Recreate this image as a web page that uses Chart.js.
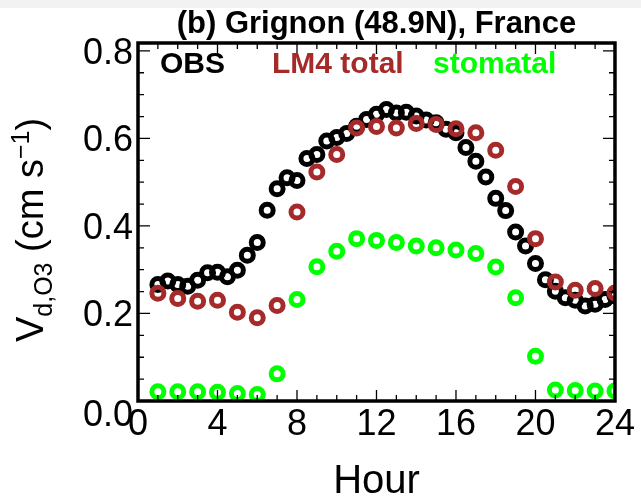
<!DOCTYPE html>
<html>
<head>
<meta charset="utf-8">
<script src="https://cdn.jsdelivr.net/npm/chart.js@4"></script>
<style>
  html, body { margin: 0; padding: 0; background: #fff; }
  #wrap { width: 641px; height: 499px; position: relative; }
</style>
</head>
<body>
<div id="wrap"><canvas id="vdChart"></canvas></div>
<script>
// Ozone deposition velocity, diurnal cycle at Grignon
const hours = [1, 2, 3, 4, 5, 6, 7, 8, 9, 10, 11, 12, 13, 14, 15, 16, 17, 18, 19, 20, 21, 22, 23, 24];
const obsHours = [1, 1.5, 2, 2.5, 3, 3.5, 4, 4.5, 5, 5.5, 6, 6.5, 7, 7.5, 8, 8.5, 9, 9.5, 10, 10.5,
  11, 11.5, 12, 12.5, 13, 13.5, 14, 14.5, 15, 15.5, 16, 16.5, 17, 17.5, 18, 18.5, 19, 19.5, 20, 20.5,
  21, 21.5, 22, 22.5, 23, 23.5, 24];
const obsVd = [0.266, 0.274, 0.266, 0.262, 0.276, 0.293, 0.294, 0.284, 0.299, 0.333,
  0.362, 0.436, 0.485, 0.510, 0.504, 0.554, 0.563, 0.594, 0.602, 0.611,
  0.628, 0.643, 0.655, 0.666, 0.658, 0.660, 0.651, 0.642, 0.636, 0.621,
  0.613, 0.579, 0.548, 0.512, 0.463, 0.435, 0.386, 0.354, 0.314, 0.277,
  0.251, 0.236, 0.230, 0.217, 0.221, 0.232, 0.240];
const lm4TotalVd = [0.246, 0.234, 0.228, 0.230, 0.203, 0.190, 0.218, 0.432, 0.523, 0.563, 0.624, 0.627,
  0.624, 0.634, 0.632, 0.622, 0.613, 0.573, 0.490, 0.371, 0.272, 0.253, 0.257, 0.247];
const stomatalVd = [0.021, 0.021, 0.021, 0.020, 0.017, 0.015, 0.062, 0.232, 0.307, 0.342, 0.371, 0.367,
  0.362, 0.354, 0.350, 0.345, 0.337, 0.306, 0.236, 0.102, 0.025, 0.024, 0.023, 0.023];
const xTicks = [0, 4, 8, 12, 16, 20, 24];
const yTicks = [0, 0.2, 0.4, 0.6, 0.8];

const FONT = '"Liberation Sans", Arial, Helvetica, sans-serif';
const BROWN = '#a52a2a';
const GREEN = '#00ff00';

const toPoints = (xs, ys) => xs.map((x, i) => ({ x: x, y: ys[i] }));

// header strip, frame, inside tick marks, legend text and the y title
const decorations = {
  id: 'decorations',
  beforeDraw(chart) {
    const c = chart.ctx;
    c.save();
    c.fillStyle = '#f2f2f2';
    c.fillRect(0, 0, chart.width, 8);
    c.restore();
  },
  afterDraw(chart) {
    const c = chart.ctx;
    const a = chart.chartArea;
    const xs = chart.scales.x;
    const ys = chart.scales.y;
    c.save();
    c.strokeStyle = '#000';

    // minor/major ticks pointing inwards on all four sides
    c.lineWidth = 1.3;
    c.beginPath();
    for (let h = 1; h < 24; h++) {
      const px = xs.getPixelForValue(h);
      const len = h % 4 === 0 ? 11 : 6;
      c.moveTo(px, a.bottom); c.lineTo(px, a.bottom - len);
      c.moveTo(px, a.top); c.lineTo(px, a.top + len);
    }
    for (let k = 1; k <= 16; k++) {
      const v = k * 0.05;
      const py = ys.getPixelForValue(v);
      const len = k % 4 === 0 ? 12 : 6;
      c.moveTo(a.left, py); c.lineTo(a.left + len, py);
      c.moveTo(a.right, py); c.lineTo(a.right - len, py);
    }
    c.stroke();

    c.lineWidth = 3.5;
    c.strokeRect(a.left, a.top, a.right - a.left, a.bottom - a.top);

    // the 0.0 label sits a little lower so it clears the hour axis
    c.fillStyle = '#000';
    c.font = '36px ' + FONT;
    c.textAlign = 'right';
    c.textBaseline = 'middle';
    c.fillText('0.0', a.left - 5, ys.getPixelForValue(0) + 15);

    // legend written as coloured words inside the frame
    c.font = 'bold 30px ' + FONT;
    c.textAlign = 'left';
    const legendX = [160, 272, 433];
    chart.data.datasets.slice().sort((p, q) => p.legendIndex - q.legendIndex).forEach((ds, i) => {
      c.fillStyle = ds.borderColor;
      c.fillText(ds.label, legendX[i], 65);
    });

    // y title with subscript and superscript, rotated
    c.fillStyle = '#000';
    const parts = [
      { t: 'V', size: 38, dy: 0 },
      { t: 'd,O3', size: 25, dy: 9 },
      { t: ' (cm s', size: 38, dy: 0 },
      { t: '\u22121', size: 25, dy: -14 },
      { t: ')', size: 38, dy: 0 }
    ];
    let total = 0;
    parts.forEach(p => { c.font = p.size + 'px ' + FONT; p.w = c.measureText(p.t).width; total += p.w; });
    c.translate(43, 230);
    c.rotate(-Math.PI / 2);
    c.textAlign = 'left';
    c.textBaseline = 'alphabetic';
    let x0 = -total / 2;
    parts.forEach(p => {
      c.font = p.size + 'px ' + FONT;
      c.fillText(p.t, x0, p.dy);
      x0 += p.w;
    });
    c.restore();
  }
};

const ctx = document.getElementById('vdChart').getContext('2d');
new Chart(ctx, {
  type: 'scatter',
  data: {
    datasets: [
      {
        label: 'OBS', legendIndex: 0, order: 3,
        data: toPoints(obsHours, obsVd),
        borderColor: '#000000'
      },
      {
        label: 'LM4 total', legendIndex: 1, order: 2,
        data: toPoints(hours, lm4TotalVd),
        borderColor: BROWN
      },
      {
        label: 'stomatal', legendIndex: 2, order: 1,
        data: toPoints(hours, stomatalVd),
        borderColor: GREEN
      }
    ]
  },
  options: {
    responsive: true,
    maintainAspectRatio: false,
    animation: false,
    events: [],
    elements: {
      point: { radius: 6, borderWidth: 5, backgroundColor: 'rgba(0,0,0,0)', pointStyle: 'circle' }
    },
    layout: { padding: { top: 0, right: 24, bottom: 0, left: 0 } },
    plugins: {
      legend: { display: false },
      tooltip: { enabled: false },
      title: {
        display: true,
        fullSize: false,
        text: '(b) Grignon (48.9N), France',
        color: '#000',
        font: { family: FONT, size: 31, weight: 'bold', lineHeight: 1.2 },
        padding: { top: 6, bottom: -0.2 }
      }
    },
    scales: {
      x: {
        type: 'linear', min: 0, max: 24,
        grid: { display: false, drawTicks: false },
        border: { display: false },
        afterBuildTicks: s => { s.ticks = xTicks.map(v => ({ value: v })); },
        afterFit: s => { s.height = 98; },
        ticks: {
          color: '#000', padding: 6, maxRotation: 0,
          font: { family: FONT, size: 36, lineHeight: 1 }
        },
        title: {
          display: true, text: 'Hour', color: '#000',
          font: { family: FONT, size: 40, lineHeight: 0.85 },
          padding: { top: 0, bottom: 0 }
        }
      },
      y: {
        type: 'linear', min: 0, max: 0.818,
        grid: { display: false, drawTicks: false },
        border: { display: false },
        afterBuildTicks: s => { s.ticks = yTicks.map(v => ({ value: v })); },
        afterFit: s => { s.width = 138; },
        ticks: {
          color: '#000', padding: 5, labelOffset: 3,
          font: { family: FONT, size: 36, lineHeight: 1 },
          callback: v => (v === 0 ? '' : v.toFixed(1))
        }
      }
    }
  },
  plugins: [decorations]
});
</script>
</body>
</html>
